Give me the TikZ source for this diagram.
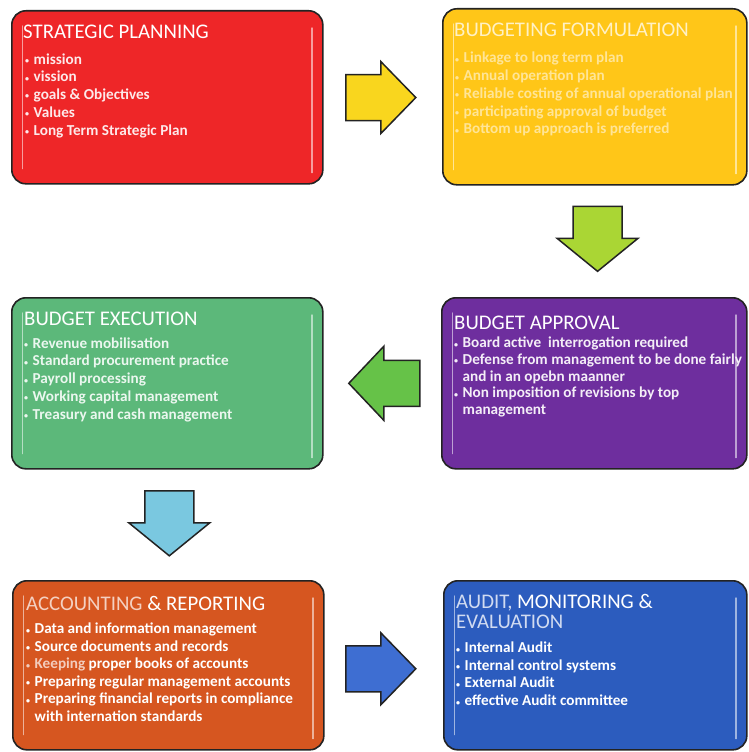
\documentclass[tikz,border=0pt]{standalone}
\usepackage{fontspec}
\setmainfont{Carlito}
\usetikzlibrary{calc}
\definecolor{cred}{RGB}{238,38,40}
\definecolor{cyellow}{RGB}{255,198,24}
\definecolor{cpurple}{RGB}{110,46,158}
\definecolor{cgreen}{RGB}{92,184,122}
\definecolor{corange}{RGB}{214,86,32}
\definecolor{cblue}{RGB}{44,92,190}
\definecolor{aryellow}{RGB}{249,214,30}
\definecolor{arlime}{RGB}{170,214,52}
\definecolor{argreen}{RGB}{102,194,72}
\definecolor{arcyan}{RGB}{122,200,224}
\definecolor{arblue}{RGB}{62,110,210}
\definecolor{edge}{RGB}{35,35,35}
\newcommand\bl{\makebox[8.5pt][l]{\raisebox{0.5pt}{\footnotesize•}}}
\newcommand\arrowR[2]{\begin{scope}[shift={(#1)}]\draw[arrowline,fill=#2] (-35,-23) -- (0,-23) -- (0,-36) -- (35,0) -- (0,36) -- (0,23) -- (-35,23) -- cycle;\end{scope}}
\newcommand\arrowL[2]{\begin{scope}[shift={(#1)}]\draw[arrowline,fill=#2] (36,-23) -- (0,-23) -- (0,-37) -- (-35,0) -- (0,37) -- (0,23) -- (36,23) -- cycle;\end{scope}}
\newcommand\arrowD[2]{\begin{scope}[shift={(#1)}]\draw[arrowline,fill=#2] (-24.5,-32) -- (24.5,-32) -- (24.5,0) -- (40.5,0) -- (0,33) -- (-40.5,0) -- (-24.5,0) -- cycle;\end{scope}}
\begin{document}
\begin{tikzpicture}[x=1pt,y=-1pt,
  box/.style={draw=edge, line width=1.6pt, rounded corners=14pt, anchor=north west, inner sep=0pt},
  title/.style={anchor=base west, inner sep=0pt, font=\fontsize{20.8}{20.5}\selectfont},
  items/.style={anchor=base west, inner sep=0pt, font=\fontsize{15.2}{#1}\selectfont\bfseries},
  arrowline/.style={draw=edge, line width=1.5pt, line join=miter},
  gloss/.style={draw=white, line width=1.4pt, opacity=0.55, line cap=round}]
\useasboundingbox (0,0) rectangle (748,752);
\fill[white] (0,0) rectangle (748,752);

% boxes
\node[box, fill=cred,    minimum width=311pt, minimum height=173pt] (sp) at (11,10) {};
\node[box, fill=cyellow, minimum width=304pt, minimum height=176pt] (bf) at (442,8) {};
\node[box, fill=cpurple, minimum width=305pt, minimum height=171pt] (ba) at (441,297) {};
\node[box, fill=cgreen,  minimum width=311pt, minimum height=171pt] (be) at (11,297) {};
\node[box, fill=corange, minimum width=311pt, minimum height=169pt] (ar) at (12,580) {};
\node[box, fill=cblue,   minimum width=303pt, minimum height=169pt] (am) at (443,580) {};

% gloss highlights
\foreach \b in {sp,bf,ba,be,ar,am}{
  \draw[gloss] ($(\b.north west)+(11.5,16)$) -- ($(\b.south west)+(11.5,-16)$);
  \draw[gloss] ($(\b.north east)+(-11.5,18)$) -- ($(\b.south east)+(-11.5,-12)$);
}

% strategic planning
\node[title, text=white] (spt) at ($(sp.north west)+(12,29)$) {STRATEGIC PLANNING};
\node[items=17.75pt, text=white!90!cred] (spi) at ($(sp.north west)+(14,54)$) {\begin{tabular}[t]{@{}l@{}l@{}}
\bl& mission\\ \bl& vission\\ \bl& goals \& Objectives\\ \bl& Values\\ \bl& Long Term Strategic Plan\end{tabular}};

% budgeting formulation
\node[title, text=white!75!cyellow] (bft) at ($(bf.north west)+(12,29)$) {BUDGETING FORMULATION};
\node[items=17.75pt, text=white!55!cyellow] (bfi) at ($(bf.north west)+(13,55)$) {\begin{tabular}[t]{@{}l@{}l@{}}
\bl& Linkage to long term plan\\ \bl& Annual operation plan\\ \bl& Reliable costing of annual operational plan\\ \bl& participating approval of budget\\ \bl& Bottom up approach is preferred\end{tabular}};

% budget approval
\node[title, text=white] (bat) at ($(ba.north west)+(13,32)$) {BUDGET APPROVAL};
\node[items=16.8pt, text=white!92!cpurple] (bai) at ($(ba.north west)+(13,50.5)$) {\begin{tabular}[t]{@{}l@{}l@{}}
\bl& Board active\ \ interrogation required\\ \bl& Defense from management to be done fairly\\ & and in an opebn maanner\\ \bl& Non imposition of revisions by top\\ & management\end{tabular}};

% budget execution
\node[title, text=white] (bet) at ($(be.north west)+(13,28)$) {BUDGET EXECUTION};
\node[items=17.75pt, text=white!88!cgreen] (bei) at ($(be.north west)+(13,51)$) {\begin{tabular}[t]{@{}l@{}l@{}}
\bl& Revenue mobilisation\\ \bl& Standard procurement practice\\ \bl& Payroll processing\\ \bl& Working capital management\\ \bl& Treasury and cash management\end{tabular}};

% accounting & reporting
\node[title, text=white] (art) at ($(ar.north west)+(14,30)$) {\textcolor{white!72!corange}{ACCOUNTING} \& REPORTING};
\node[items=17.6pt, text=white] (ari) at ($(ar.north west)+(14,53.5)$) {\begin{tabular}[t]{@{}l@{}l@{}}
\bl& Data and information management\\ \bl& Source documents and records\\ \textcolor{white!70!corange}{\bl}& \textcolor{white!70!corange}{Keeping} proper books of accounts\\ \bl& Preparing regular management accounts\\ \bl& Preparing financial reports in compliance\\ & with internation standards\end{tabular}};

% audit, monitoring & evaluation
\node[title, text=white] (amt) at ($(am.north west)+(13,28)$) {\begin{tabular}[t]{@{}l@{}}\textcolor{white!78!cblue}{AUDIT,} MONITORING \&\\ \textcolor{white!78!cblue}{EVALUATION}\end{tabular}};
\node[items=17.7pt, text=white] (ami) at ($(am.north west)+(13,72.5)$) {\begin{tabular}[t]{@{}l@{}l@{}}
\bl& Internal Audit\\ \bl& Internal control systems\\ \bl& External Audit\\ \bl& effective Audit committee\end{tabular}};

% arrows
\coordinate (a1) at ($($(sp.east)!0.5!(bf.west)$)+(-2,0.5)$);
\coordinate (a2) at ($($(bf.south)!0.5!(ba.north)$)+(3,-3)$);
\coordinate (a3) at ($($(ba.west)!0.5!(be.east)$)+(1.5,0)$);
\coordinate (a4) at ($($(be.south)!0.5!(ar.north)$)+(1.5,-2)$);
\coordinate (a5) at ($($(ar.east)!0.5!(am.west)$)+(-3,3.5)$);
\arrowR{a1}{aryellow}
\arrowD{a2}{arlime}
\arrowL{a3}{argreen}
\arrowD{a4}{arcyan}
\arrowR{a5}{arblue}
\end{tikzpicture}
\end{document}
